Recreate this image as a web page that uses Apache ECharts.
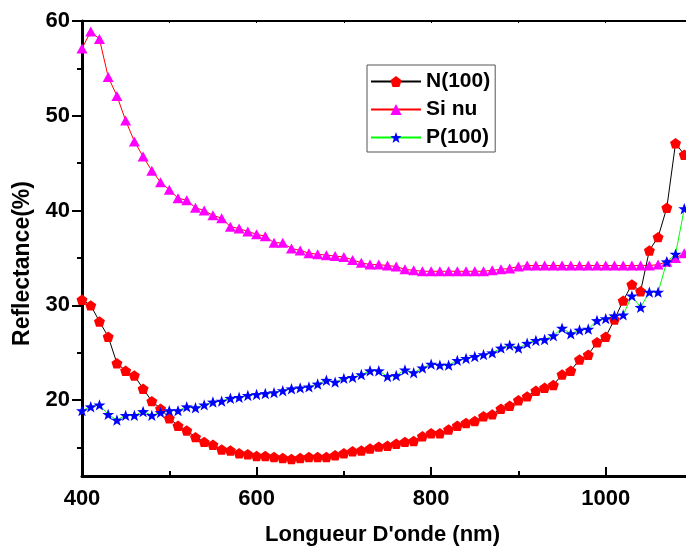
<!DOCTYPE html>
<html>
<head>
<meta charset="utf-8">
<script src="https://cdn.jsdelivr.net/npm/echarts@6/dist/echarts.min.js"></script>
<style>html,body{margin:0;padding:0;background:#fff}#c{width:686px;height:550px}</style>
</head>
<body>
<div id="c"></div>
<script>
var wavelengths = [400,410,420,430,440,450,460,470,480,490,500,510,520,530,540,550,560,570,580,590,600,610,620,630,640,650,660,670,680,690,700,710,720,730,740,750,760,770,780,790,800,810,820,830,840,850,860,870,880,890,900,910,920,930,940,950,960,970,980,990,1000,1010,1020,1030,1040,1050,1060,1070,1080,1090];
var n100 = [30.6,30.0,28.3,26.7,23.9,23.1,22.6,21.2,19.9,19.1,18.1,17.3,16.8,16.1,15.6,15.3,14.8,14.7,14.4,14.3,14.1,14.1,14.0,13.9,13.8,13.9,14.0,14.0,14.0,14.2,14.4,14.6,14.7,14.9,15.1,15.2,15.4,15.6,15.7,16.2,16.5,16.5,16.9,17.3,17.6,17.8,18.3,18.5,19.1,19.4,20.0,20.4,21.0,21.3,21.6,22.7,23.1,24.3,24.8,26.1,26.7,28.5,30.5,32.2,31.5,35.8,37.2,40.3,47.1,45.9];
var siNu = [57.1,58.9,58.1,54.1,52.1,49.5,47.3,45.7,44.2,43.0,42.2,41.3,41.1,40.3,40.0,39.5,39.2,38.3,38.1,37.8,37.5,37.3,36.6,36.6,36.0,35.8,35.5,35.4,35.3,35.2,35.1,34.8,34.5,34.3,34.3,34.2,34.1,33.8,33.7,33.6,33.6,33.6,33.6,33.6,33.6,33.6,33.6,33.7,33.8,33.9,34.1,34.2,34.2,34.2,34.2,34.2,34.2,34.2,34.2,34.2,34.2,34.2,34.2,34.2,34.2,34.2,34.3,34.6,35.0,35.5];
var p100 = [18.9,19.3,19.5,18.5,17.9,18.4,18.4,18.8,18.4,18.7,18.9,18.9,19.3,19.2,19.5,19.8,19.9,20.2,20.3,20.5,20.6,20.7,20.8,21.0,21.2,21.3,21.4,21.7,22.1,21.9,22.3,22.4,22.7,23.1,23.1,22.5,22.6,23.2,22.9,23.4,23.8,23.7,23.7,24.2,24.4,24.6,24.8,25.0,25.5,25.8,25.5,26.0,26.3,26.4,26.8,27.6,27.0,27.4,27.5,28.4,28.6,28.9,29.0,31.0,29.8,31.4,31.4,34.6,35.4,40.2];
var xMajorTicks = [400,600,800,1000];
var xMinorTicks = [500,700,900];
var xTopTicks = [500,600,700,800,900,1000];
var yMajorTicks = [20,30,40,50,60];
var yMinorTicks = [15,25,35,45,55];

function pairs(ys){ return wavelengths.map(function(x,i){ return [x, ys[i]]; }); }
function plain(v){ return String(v); }

var FONT = 'Liberation Sans';
var pentagon = 'path://M0,-10 L9.51,-3.09 L5.88,8.09 L-5.88,8.09 L-9.51,-3.09 Z';
var star = 'path://M0,-10 L2.35,-3.24 L9.51,-3.09 L3.8,1.24 L5.88,8.09 L0,4 L-5.88,8.09 L-3.8,1.24 L-9.51,-3.09 L-2.35,-3.24 Z';

var chart = echarts.init(document.getElementById('c'));
chart.setOption({
  animation: false,
  backgroundColor: '#fff',
  grid: { left: 82, right: -7, top: 21, bottom: 74, containLabel: false, outerBoundsMode: 'none' },
  legend: {
    left: 367, top: 65, orient: 'vertical',
    data: ['N(100)', 'Si nu', 'P(100)'],
    itemWidth: 50, itemHeight: 14, itemGap: 7,
    padding: [6, 5, 4, 3],
    borderColor: '#555', borderWidth: 1,
    textStyle: { fontFamily: FONT, fontWeight: 'bold', fontSize: 21, color: '#000' }
  },
  xAxis: [
    { type: 'value', min: 400, max: 1100, position: 'bottom',
      name: "Longueur D'onde (nm)", nameLocation: 'middle', nameGap: 48,
      nameTextStyle: { fontFamily: FONT, fontWeight: 'bold', fontSize: 22, color: '#000', padding: [0, 10, 0, 0] },
      axisLine: { onZero: false, lineStyle: { color: '#000', width: 3 } },
      axisTick: { inside: true, length: 9, lineStyle: { color: '#000', width: 2 }, customValues: xMajorTicks },
      axisLabel: { customValues: xMajorTicks, formatter: plain, margin: 12, fontFamily: FONT, fontWeight: 'bold', fontSize: 22, color: '#000' },
      splitLine: { show: false } },
    { type: 'value', min: 400, max: 1100, position: 'bottom',
      axisLine: { show: false, onZero: false },
      axisTick: { inside: true, length: 5, lineStyle: { color: '#000', width: 2 }, customValues: xMinorTicks },
      axisLabel: { show: false }, splitLine: { show: false } },
    { type: 'value', min: 400, max: 1100, position: 'top',
      axisLine: { onZero: false, lineStyle: { color: '#000', width: 2 } },
      axisTick: { inside: true, length: 2, lineStyle: { color: '#000', width: 1 }, customValues: xTopTicks },
      axisLabel: { show: false }, splitLine: { show: false } }
  ],
  yAxis: [
    { type: 'value', min: 12, max: 60, position: 'left',
      name: 'Reflectance(%)', nameLocation: 'middle', nameGap: 45,
      nameTextStyle: { fontFamily: FONT, fontWeight: 'bold', fontSize: 23, color: '#000', padding: [0, 30, 0, 0] },
      axisLine: { show: true, onZero: false, lineStyle: { color: '#000', width: 3 } },
      axisTick: { show: true, inside: false, length: 10, lineStyle: { color: '#000', width: 2 }, customValues: yMajorTicks },
      axisLabel: { customValues: yMajorTicks, formatter: plain, margin: 12, fontFamily: FONT, fontWeight: 'bold', fontSize: 22, color: '#000' },
      splitLine: { show: false } },
    { type: 'value', min: 12, max: 60, position: 'left',
      axisLine: { show: false, onZero: false },
      axisTick: { show: true, inside: false, length: 5, lineStyle: { color: '#000', width: 2 }, customValues: yMinorTicks },
      axisLabel: { show: false }, splitLine: { show: false } }
  ],
  series: [
    { name: 'Si nu', type: 'line', xAxisIndex: 0, yAxisIndex: 0, data: pairs(siNu),
      symbol: 'triangle', symbolSize: [11, 10],
      lineStyle: { color: '#ff0000', width: 1 }, itemStyle: { color: '#ff00ff' } },
    { name: 'N(100)', type: 'line', xAxisIndex: 0, yAxisIndex: 0, data: pairs(n100),
      symbol: pentagon, symbolSize: 11, symbolKeepAspect: true,
      lineStyle: { color: '#000000', width: 1 }, itemStyle: { color: '#ff0000' } },
    { name: 'P(100)', type: 'line', xAxisIndex: 0, yAxisIndex: 0, data: pairs(p100),
      symbol: star, symbolSize: 12, symbolKeepAspect: true,
      lineStyle: { color: '#00ff00', width: 1 }, itemStyle: { color: '#0000ff' } }
  ]
});
</script>
</body>
</html>
